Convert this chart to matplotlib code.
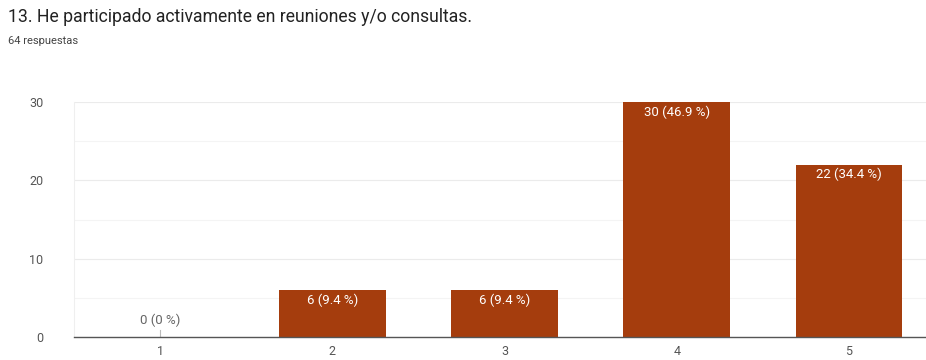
import matplotlib.pyplot as plt
from matplotlib.ticker import MultipleLocator

# Survey answers (scale 1-5)
categories = ["1", "2", "3", "4", "5"]
counts = [0, 6, 6, 30, 22]
total = 64
labels = ["0 (0 %)", "6 (9.4 %)", "6 (9.4 %)", "30 (46.9 %)", "22 (34.4 %)"]

plt.rcParams['font.family'] = ['Roboto', 'DejaVu Sans']

fig = plt.figure(figsize=(9.26, 3.6), dpi=100)
ax = fig.add_axes([74 / 926, 23 / 360, 861 / 926, 235 / 360])

bar_color = "#a53d0d"
x = range(len(categories))
bars = ax.bar(x, counts, width=0.62, color=bar_color, zorder=3)

for i, (c, lab) in enumerate(zip(counts, labels)):
    if c == 0:
        ax.plot([i, i], [0, 0.9], color="#bbbbbb", lw=0.8, zorder=3)
        ax.text(i, 1.3, lab, ha="center", va="bottom", fontsize=9.5, color="#666666")
    else:
        ax.text(i, c - 0.4, lab, ha="center", va="top", fontsize=9.5, color="white", zorder=4)

ax.set_xlim(-0.5, len(categories) - 0.5)
ax.set_ylim(0, 30)
ax.set_xticks(list(x))
ax.set_xticklabels(categories)
ax.yaxis.set_major_locator(MultipleLocator(10))
ax.yaxis.set_minor_locator(MultipleLocator(5))
ax.grid(axis="y", which="major", color="#ebebeb", lw=0.8, zorder=0)
ax.grid(axis="y", which="minor", color="#f4f4f4", lw=0.8, zorder=0)

for s in ["top", "right"]:
    ax.spines[s].set_visible(False)
ax.spines["left"].set_color("#efefef")
ax.spines["bottom"].set_color("#555555")
ax.spines["bottom"].set_linewidth(1.0)
ax.spines["bottom"].set_zorder(5)

ax.tick_params(axis="both", which="both", length=0, labelsize=9, colors="#555555")
ax.tick_params(axis="y", pad=22)
ax.tick_params(axis="x", pad=6)

fig.text(8 / 926, 1 - 17 / 360, "13. He participado activamente en reuniones y/o consultas.",
         fontsize=12.7, color="#222222", va="center")
fig.text(8 / 926, 1 - 41 / 360, f"{total} respuestas", fontsize=8, color="#444444", va="center")

fig.savefig("out.png", dpi=100, facecolor="white")
